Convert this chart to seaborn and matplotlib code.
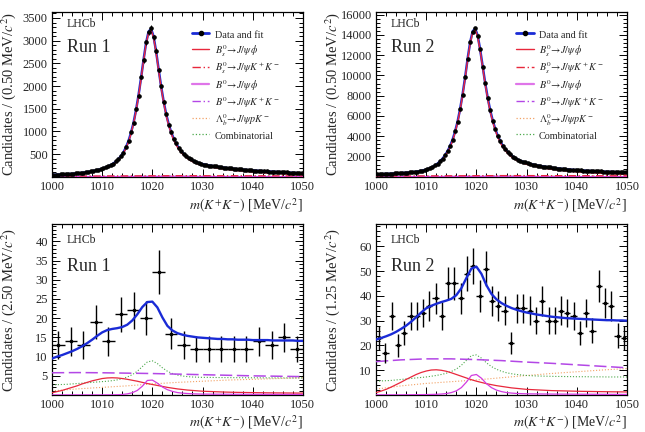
import numpy as np
import seaborn as sns
import matplotlib
matplotlib.use("Agg")
import matplotlib.pyplot as plt
from matplotlib.lines import Line2D
from matplotlib.ticker import MultipleLocator, FuncFormatter

# --- binning -------------------------------------------------------------
top_bins = np.arange(1000.25, 1050.0, 0.5)      # 0.50 MeV bins
run1_low_bins = np.arange(1001.25, 1050.0, 2.5)  # 2.50 MeV bins
run2_low_bins = np.arange(1000.625, 1050.0, 1.25)  # 1.25 MeV bins
grid_1 = np.arange(1000, 1051, 1)
grid_5 = np.arange(1000, 1051, 5)

# --- top row: Run 1 -------------------------------------------------------
run1_top_data = [
    40, 47, 44, 50, 49, 57, 55, 63, 62, 73,
    72, 84, 86, 99, 103, 118, 123, 141, 149, 171,
    183, 210, 226, 262, 288, 341, 384, 462, 533, 658,
    781, 982, 1176, 1488, 1785, 2197, 2566, 2968, 3188, 3282,
    3071, 2781, 2352, 2006, 1645, 1393, 1147, 991, 828, 734,
    626, 569, 492, 458, 403, 381, 339, 326, 296, 289,
    268, 264, 246, 243, 227, 225, 210, 209, 195, 194,
    182, 181, 170, 169, 159, 159, 149, 149, 140, 141,
    132, 133, 125, 126, 118, 119, 112, 113, 106, 107,
    100, 101, 94, 95, 88, 89, 82, 83, 77, 76]
run1_top_fit = [
    42, 44, 46, 48, 51, 54, 57, 61, 65, 70,
    75, 81, 88, 96, 105, 115, 126, 138, 152, 168,
    186, 206, 230, 258, 292, 335, 390, 455, 540, 650,
    790, 970, 1190, 1470, 1800, 2180, 2580, 2950, 3200, 3260,
    3090, 2760, 2370, 1990, 1660, 1380, 1160, 980, 840, 725,
    635, 560, 500, 450, 410, 375, 345, 320, 300, 285,
    272, 260, 250, 240, 231, 222, 214, 206, 199, 192,
    185, 179, 173, 167, 162, 157, 152, 147, 143, 139,
    135, 131, 127, 124, 120, 117, 114, 111, 108, 105,
    102, 99, 96, 93, 90, 87, 84, 81, 78, 75]
run1_top_bs_phi = [
    27, 29, 31, 33, 36, 38, 41, 45, 49, 53,
    58, 64, 70, 78, 87, 96, 107, 119, 132, 148,
    165, 185, 208, 236, 270, 312, 367, 431, 516, 625,
    765, 945, 1165, 1444, 1774, 2154, 2554, 2924, 3174, 3234,
    3064, 2734, 2344, 1964, 1634, 1354, 1133, 953, 813, 698,
    608, 532, 472, 422, 382, 347, 317, 292, 271, 256,
    243, 231, 221, 211, 201, 192, 184, 176, 169, 162,
    155, 148, 142, 136, 131, 126, 121, 116, 112, 107,
    103, 99, 95, 92, 88, 84, 81, 78, 75, 72,
    69, 66, 63, 60, 57, 54, 51, 48, 45, 42]
run1_top_bs_kk = [12, 14, 16, 18, 20, 22, 22, 21, 20, 19, 18]
run1_top_b0_phi = [1, 1, 2, 3, 6, 10, 4, 2, 1, 1, 1]
run1_top_b0_kk = [8, 8, 8, 8, 8, 8, 7, 7, 7, 7, 7]
run1_top_lb = [2, 3, 3, 4, 4, 5, 5, 6, 6, 6, 7]
run1_top_comb = [4, 4, 5, 6, 8, 12, 8, 7, 7, 7, 7]

# --- top row: Run 2 -------------------------------------------------------
run2_top_data = [
    236, 252, 251, 270, 271, 291, 294, 317, 320, 347,
    352, 384, 393, 428, 440, 482, 502, 561, 598, 677,
    739, 851, 952, 1124, 1281, 1525, 1771, 2128, 2508, 3041,
    3634, 4472, 5421, 6698, 8105, 9830, 11621, 13290, 14318, 14660,
    13915, 12590, 10870, 9285, 7775, 6580, 5530, 4745, 4032, 3522,
    3045, 2728, 2405, 2197, 1972, 1836, 1672, 1585, 1462, 1410,
    1318, 1279, 1193, 1163, 1089, 1067, 1001, 984, 925, 911,
    859, 848, 801, 794, 750, 745, 706, 702, 665, 662,
    628, 627, 596, 595, 566, 566, 539, 540, 514, 516,
    491, 494, 470, 474, 451, 455, 433, 438, 417, 421]
run2_top_fit = [
    240, 248, 256, 265, 275, 286, 298, 311, 325, 341,
    358, 377, 398, 421, 446, 474, 508, 553, 605, 668,
    745, 840, 960, 1110, 1290, 1510, 1780, 2110, 2520, 3020,
    3650, 4450, 5440, 6670, 8130, 9800, 11650, 13250, 14350, 14620,
    13950, 12550, 10900, 9250, 7800, 6550, 5550, 4720, 4050, 3500,
    3060, 2710, 2420, 2180, 1985, 1820, 1685, 1570, 1475, 1395,
    1330, 1265, 1205, 1150, 1100, 1055, 1012, 972, 935, 900,
    868, 838, 810, 784, 759, 736, 714, 693, 673, 654,
    636, 619, 603, 588, 573, 559, 546, 533, 521, 509,
    498, 487, 477, 467, 457, 448, 439, 431, 423, 415]
run2_top_bs_phi = [
    160, 167, 174, 182, 191, 201, 212, 224, 237, 252,
    268, 286, 306, 328, 352, 379, 412, 456, 507, 569,
    645, 739, 858, 1007, 1186, 1405, 1674, 2003, 2412, 2911,
    3540, 4339, 5328, 6557, 8016, 9685, 11534, 13133, 14232, 14501,
    13830, 12429, 10778, 9127, 7676, 6425, 5424, 4593, 3922, 3371,
    2930, 2579, 2288, 2047, 1851, 1685, 1549, 1433, 1337, 1256,
    1190, 1124, 1063, 1007, 956, 910, 866, 825, 787, 751,
    718, 687, 658, 631, 605, 581, 558, 536, 515, 495,
    476, 458, 441, 425, 409, 394, 380, 366, 353, 340,
    328, 316, 305, 294, 283, 273, 263, 254, 245, 236]
run2_top_bs_kk = [60, 70, 80, 90, 100, 110, 110, 105, 100, 95, 90]
run2_top_b0_phi = [5, 5, 10, 15, 30, 50, 20, 10, 5, 5, 5]
run2_top_b0_kk = [40, 40, 40, 40, 40, 40, 35, 35, 35, 35, 35]
run2_top_lb = [10, 15, 15, 20, 20, 25, 25, 30, 30, 30, 35]
run2_top_comb = [20, 20, 25, 30, 40, 60, 40, 35, 35, 35, 35]

# --- bottom row: Run 1 ----------------------------------------------------
run1_low_data = [13, 14, 13, 19, 14, 21, 22, 20, 32, 16,
                 13, 12, 12, 12, 12, 12, 14, 13, 15, 12]
run1_low_fit = [
    9.5, 10.0, 10.4, 10.9, 11.4, 12.0, 12.7, 13.5, 14.4, 15.4,
    16.3, 16.9, 17.2, 17.4, 17.7, 18.3, 19.4, 21.0, 22.9, 24.2,
    24.3, 22.8, 20.2, 18.0, 16.8, 16.1, 15.7, 15.4, 15.2, 15.0,
    14.9, 14.8, 14.7, 14.6, 14.6, 14.5, 14.5, 14.4, 14.4, 14.4,
    14.3, 14.3, 14.3, 14.3, 14.2, 14.2, 14.2, 14.2, 14.2, 14.1, 14.1]
run1_low_red = [
    0.6, 0.9, 1.2, 1.6, 2.0, 2.4, 2.9, 3.3, 3.7, 4.0,
    4.3, 4.45, 4.5, 4.45, 4.3, 4.1, 3.85, 3.6, 3.3, 3.0,
    2.75, 2.5, 2.25, 2.0, 1.8, 1.6, 1.45, 1.3, 1.2, 1.1,
    1.0, 0.95, 0.9, 0.85, 0.8, 0.76, 0.73, 0.7, 0.68, 0.66,
    0.64, 0.62, 0.6, 0.58, 0.57, 0.56, 0.55, 0.54, 0.53, 0.52, 0.51]
run1_low_violet = [
    0.05, 0.05, 0.05, 0.05, 0.05, 0.05, 0.05, 0.05, 0.05, 0.05,
    0.05, 0.06, 0.07, 0.09, 0.15, 0.3, 0.6, 1.2, 2.3, 3.8,
    3.9, 3.1, 2.1, 1.4, 0.95, 0.65, 0.5, 0.4, 0.33, 0.28,
    0.25, 0.24, 0.23, 0.22, 0.22, 0.21, 0.2, 0.2, 0.19, 0.19,
    0.18, 0.18, 0.18, 0.17, 0.17, 0.17, 0.16, 0.16, 0.16, 0.15, 0.15]
run1_low_comb = [
    2.65, 2.7, 2.75, 2.8, 2.9, 3.0, 3.1, 3.2, 3.3, 3.4,
    3.5, 3.6, 3.75, 3.95, 4.25, 4.7, 5.3, 6.2, 7.4, 8.6,
    8.9, 8.2, 7.1, 6.2, 5.6, 5.2, 4.95, 4.8, 4.7, 4.65,
    4.6, 4.6, 4.58, 4.56, 4.55, 4.54, 4.53, 4.52, 4.51, 4.5,
    4.5, 4.49, 4.48, 4.48, 4.47, 4.47, 4.46, 4.46, 4.45, 4.45, 4.45]
run1_low_b0_kk = [5.8, 5.85, 5.8, 5.7, 5.6, 5.45, 5.3, 5.15, 5.0, 4.9, 4.8]
run1_low_lb = [1.1, 1.6, 2.0, 2.4, 2.9, 3.3, 3.6, 3.9, 4.1, 4.3, 4.5]

# --- bottom row: Run 2 ----------------------------------------------------
run2_low_data = [23, 17, 32, 20, 25, 32, 32, 33, 36, 39,
                 32, 45, 45, 39, 49, 52, 40, 51, 38, 36,
                 34, 21, 35, 35, 34, 30, 38, 30, 30, 34,
                 33, 32, 25, 33, 26, 44, 37, 36, 24, 23]
run2_low_fit = [
    22.4, 23.0, 23.7, 24.5, 25.5, 26.7, 28.0, 29.6, 31.4, 33.3,
    35.0, 36.0, 36.8, 37.5, 38.1, 38.8, 40.3, 43.1, 47.2, 51.0,
    51.8, 48.9, 44.3, 40.8, 38.6, 37.1, 36.0, 35.1, 34.4, 33.8,
    33.3, 32.9, 32.5, 32.2, 31.9, 31.6, 31.4, 31.2, 31.0, 30.9,
    30.8, 30.7, 30.6, 30.5, 30.4, 30.3, 30.2, 30.2, 30.1, 30.1, 30.0]
run2_low_red = [
    1.0, 1.6, 2.3, 3.2, 4.2, 5.2, 6.3, 7.3, 8.3, 9.1,
    9.7, 10.1, 10.2, 10.0, 9.6, 9.0, 8.3, 7.6, 6.9, 6.2,
    5.6, 5.1, 4.6, 4.2, 3.8, 3.5, 3.2, 2.9, 2.7, 2.5,
    2.3, 2.2, 2.1, 2.0, 1.9, 1.8, 1.75, 1.7, 1.65, 1.6,
    1.55, 1.5, 1.47, 1.44, 1.41, 1.38, 1.35, 1.32, 1.3, 1.28, 1.26]
run2_low_violet = [
    0.1, 0.1, 0.1, 0.1, 0.1, 0.1, 0.12, 0.14, 0.16, 0.18,
    0.2, 0.25, 0.3, 0.4, 0.6, 1.0, 1.7, 3.0, 5.2, 7.9,
    8.3, 6.8, 4.6, 3.0, 2.0, 1.4, 1.0, 0.8, 0.65, 0.57,
    0.5, 0.48, 0.46, 0.44, 0.42, 0.4, 0.39, 0.38, 0.37, 0.36,
    0.35, 0.34, 0.33, 0.32, 0.31, 0.3, 0.29, 0.28, 0.27, 0.26, 0.25]
run2_low_comb = [
    5.6, 5.7, 5.8, 5.9, 6.1, 6.3, 6.5, 6.7, 6.9, 7.1,
    7.3, 7.6, 7.9, 8.3, 8.8, 9.5, 10.5, 12.0, 14.0, 15.9,
    16.2, 14.9, 13.0, 11.5, 10.4, 9.6, 9.0, 8.6, 8.3, 8.1,
    7.9, 7.8, 7.7, 7.65, 7.6, 7.55, 7.5, 7.5, 7.45, 7.45,
    7.4, 7.4, 7.4, 7.35, 7.35, 7.35, 7.3, 7.3, 7.3, 7.3, 7.3]
run2_low_b0_kk = [13.5, 14.2, 14.6, 14.6, 14.3, 13.9, 13.3, 12.8, 12.2, 11.6, 11.0]
run2_low_lb = [2.4, 3.7, 4.7, 5.4, 6.1, 7.0, 7.9, 8.7, 9.4, 10.1, 10.7]

legend_labels = [
    "Data and fit",
    r"$B^0_s\!\rightarrow\!J/\psi\,\phi$",
    r"$B^0_s\!\rightarrow\!J/\psi K^+K^-$",
    r"$B^0\!\rightarrow\!J/\psi\,\phi$",
    r"$B^0\!\rightarrow\!J/\psi K^+K^-$",
    r"$\Lambda^0_b\!\rightarrow\!J/\psi pK^-$",
    "Combinatorial",
]

BLUE = "#1a2bd6"
RED = "#e8283c"
VIOLET = "#d23be0"
MAGENTA = "#b347e6"
ORANGE = "#f2a266"
GREEN = "#4aa84a"
DASH = (0, (8, 3))
DASHDOT = (0, (6, 2, 1, 2))

sns.set_theme(style="ticks")
plt.rcParams["font.family"] = ["Liberation Serif", "DejaVu Serif"]
plt.rcParams["mathtext.fontset"] = "stix"

fig = plt.figure(figsize=(6.45, 4.32), dpi=100)
ax_tl = fig.add_axes([0.0806, 0.591, 0.389, 0.381])
ax_tr = fig.add_axes([0.583, 0.591, 0.389, 0.381])
ax_bl = fig.add_axes([0.0806, 0.0855, 0.389, 0.396])
ax_br = fig.add_axes([0.583, 0.0855, 0.389, 0.396])


def line(ax, x, y, color, lw=0.9, ls="-", z=2):
    sns.lineplot(x=x, y=y, ax=ax, color=color, lw=lw, linestyle=ls,
                 estimator=None, sort=False, legend=False, zorder=z)


def frame(ax, ytop, ymaj, ymin, ylabel, run, lab_y, run_y):
    ax.set_xlim(1000, 1050)
    ax.set_ylim(0, ytop)
    ax.xaxis.set_major_locator(MultipleLocator(10))
    ax.xaxis.set_minor_locator(MultipleLocator(2))
    ax.yaxis.set_major_locator(MultipleLocator(ymaj))
    ax.yaxis.set_minor_locator(MultipleLocator(ymin))
    ax.yaxis.set_major_formatter(FuncFormatter(lambda v, p: "" if v == 0 else f"{v:.0f}"))
    ax.tick_params(which="both", direction="in", top=True, right=True,
                   labelsize=9, color="black", width=0.7, pad=3)
    ax.tick_params(which="major", length=5.5)
    ax.tick_params(which="minor", length=2.8)
    for s in ax.spines.values():
        s.set_color("black")
        s.set_linewidth(0.9)
    ax.set_xlabel(r"$m(K^{+}K^{-})$ [MeV/$c^2$]", fontsize=10, loc="right")
    ax.set_ylabel(ylabel, fontsize=10.5)
    ax.yaxis.set_label_coords(-0.135, 0.5)
    ax.text(0.06, lab_y, "LHCb", transform=ax.transAxes, fontsize=8.5, va="center")
    ax.text(0.06, run_y, run, transform=ax.transAxes, fontsize=13, va="center")


def top_panel(ax, data, fit, bs_phi, bs_kk, b0_phi, b0_kk, lb, comb):
    line(ax, top_bins, fit, BLUE, lw=1.8, z=2)
    line(ax, grid_5, comb, GREEN, lw=0.8, ls=":", z=3)
    line(ax, grid_5, lb, ORANGE, lw=0.8, ls=":", z=3)
    line(ax, grid_5, b0_kk, MAGENTA, lw=0.9, ls=DASHDOT, z=3)
    line(ax, grid_5, b0_phi, VIOLET, lw=0.9, z=3)
    line(ax, grid_5, bs_kk, RED, lw=0.9, ls=DASHDOT, z=3)
    line(ax, top_bins, bs_phi, RED, lw=1.0, z=4)
    ax.errorbar(top_bins, data, yerr=np.sqrt(data), xerr=0.25, fmt="o", ms=2.3,
                color="black", elinewidth=0.7, capsize=0, zorder=5)
    handles = [
        Line2D([], [], color=BLUE, lw=2, marker="o", ms=3, mfc="black", mec="black"),
        Line2D([], [], color=RED, lw=1),
        Line2D([], [], color=RED, lw=1, ls=DASHDOT),
        Line2D([], [], color=VIOLET, lw=1.6, alpha=0.7),
        Line2D([], [], color=MAGENTA, lw=1, ls=DASHDOT),
        Line2D([], [], color=ORANGE, lw=0.9, ls=":"),
        Line2D([], [], color=GREEN, lw=0.9, ls=":"),
    ]
    ax.legend(handles, legend_labels, loc="upper left", bbox_to_anchor=(0.557, 0.9),
              frameon=False, fontsize=7.3, handlelength=1.75, handletextpad=0.5,
              handleheight=1.5, labelspacing=0.18, borderpad=0, borderaxespad=0)


def low_panel(ax, bins, half, data, fit, red, violet, comb, b0_kk, lb):
    line(ax, grid_5, lb, ORANGE, lw=0.8, ls=":", z=2)
    line(ax, grid_1, comb, GREEN, lw=0.8, ls=":", z=2)
    line(ax, grid_5, b0_kk, MAGENTA, lw=1.1, ls=DASH, z=3)
    line(ax, grid_1, red, RED, lw=0.9, z=3)
    line(ax, grid_1, violet, VIOLET, lw=0.9, z=3)
    ax.errorbar(bins, data, yerr=np.sqrt(data), xerr=half, fmt="o", ms=1.6,
                color="black", elinewidth=1.0, capsize=0, zorder=4)
    line(ax, grid_1, fit, BLUE, lw=1.7, z=5)


top_panel(ax_tl, run1_top_data, run1_top_fit, run1_top_bs_phi, run1_top_bs_kk,
          run1_top_b0_phi, run1_top_b0_kk, run1_top_lb, run1_top_comb)
frame(ax_tl, 3630, 500, 100, r"Candidates / (0.50 MeV/$c^2$)", "Run 1", 0.927, 0.787)

top_panel(ax_tr, run2_top_data, run2_top_fit, run2_top_bs_phi, run2_top_bs_kk,
          run2_top_b0_phi, run2_top_b0_kk, run2_top_lb, run2_top_comb)
frame(ax_tr, 16250, 2000, 400, r"Candidates / (0.50 MeV/$c^2$)", "Run 2", 0.927, 0.787)

low_panel(ax_bl, run1_low_bins, 1.25, run1_low_data, run1_low_fit, run1_low_red,
          run1_low_violet, run1_low_comb, run1_low_b0_kk, run1_low_lb)
frame(ax_bl, 44.5, 5, 1, r"Candidates / (2.50 MeV/$c^2$)", "Run 1", 0.906, 0.75)

low_panel(ax_br, run2_low_bins, 0.625, run2_low_data, run2_low_fit, run2_low_red,
          run2_low_violet, run2_low_comb, run2_low_b0_kk, run2_low_lb)
frame(ax_br, 69, 10, 2, r"Candidates / (1.25 MeV/$c^2$)", "Run 2", 0.906, 0.75)

for ax in (ax_tl, ax_tr):
    ax.xaxis.set_label_coords(1.0, -0.12)
for ax in (ax_bl, ax_br):
    ax.xaxis.set_label_coords(1.0, -0.11)

fig.savefig("out.png", dpi=100)
